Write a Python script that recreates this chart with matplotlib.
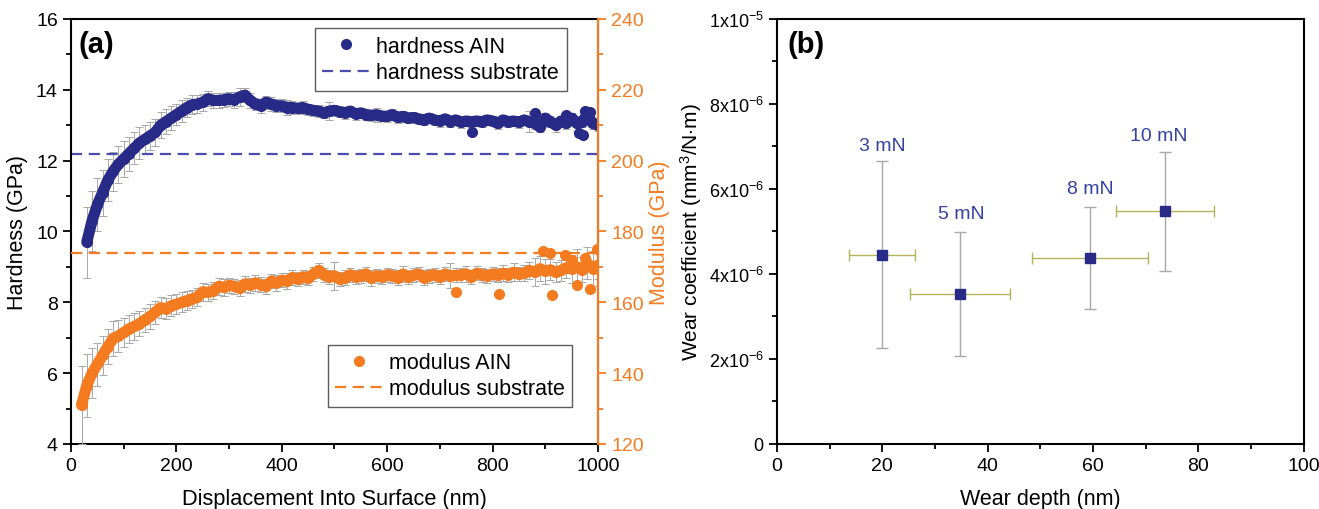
import matplotlib.pyplot as plt
from matplotlib.ticker import MultipleLocator, FixedLocator
import numpy as np

plt.rcParams['font.family'] = ['Liberation Sans', 'DejaVu Sans']
plt.rcParams['mathtext.fontset'] = 'custom'
plt.rcParams['mathtext.rm'] = 'Liberation Sans'
plt.rcParams['mathtext.it'] = 'Liberation Sans:italic'

# ---- panel (a) data: nanoindentation ----
h_depth = np.arange(30, 1001, 10)
hardness = [9.7, 10.3, 10.75, 11.1, 11.45, 11.7, 11.9, 12.05, 12.2, 12.35,
            12.5, 12.6, 12.7, 12.8, 13.0, 13.1, 13.2, 13.3, 13.4, 13.5,
            13.58, 13.6, 13.65, 13.75, 13.7, 13.7, 13.72, 13.75, 13.72, 13.8,
            13.85, 13.7, 13.6, 13.55, 13.65, 13.6, 13.55, 13.55, 13.5, 13.5,
            13.48, 13.5, 13.45, 13.42, 13.4, 13.35, 13.4, 13.42, 13.38, 13.35,
            13.4, 13.32, 13.35, 13.3, 13.28, 13.3, 13.26, 13.25, 13.3, 13.22,
            13.25, 13.2, 13.22, 13.18, 13.15, 13.2, 13.15, 13.12, 13.18, 13.1,
            13.15, 13.08, 13.12, 13.1, 13.12, 13.1, 13.15, 13.12, 13.05, 13.15,
            13.1, 13.12, 13.08, 13.15, 13.1, 13.05, 12.95, 13.2, 13.1, 13.0,
            13.12, 13.05, 13.2, 13.05, 13.1, 13.3, 13.05, 13.0]
hardness_err = [1.0, 0.85, 0.75, 0.65, 0.6, 0.55, 0.52, 0.5, 0.48, 0.45,
                0.45, 0.42, 0.4, 0.38, 0.36, 0.35, 0.33, 0.3, 0.3, 0.28,
                0.26, 0.25, 0.24, 0.22, 0.22, 0.2, 0.2, 0.2, 0.22, 0.25,
                0.2, 0.2, 0.18, 0.2, 0.18, 0.2, 0.18, 0.18, 0.2, 0.18,
                0.15, 0.18, 0.16, 0.15, 0.18, 0.15, 0.25, 0.15, 0.15, 0.16,
                0.15, 0.18, 0.15, 0.15, 0.15, 0.2, 0.15, 0.15, 0.15, 0.15,
                0.15, 0.15, 0.15, 0.15, 0.15, 0.15, 0.15, 0.16, 0.15, 0.15,
                0.15, 0.15, 0.15, 0.15, 0.15, 0.15, 0.15, 0.15, 0.15, 0.15,
                0.15, 0.15, 0.15, 0.15, 0.3, 0.15, 0.15, 0.15, 0.15, 0.2,
                0.15, 0.15, 0.15, 0.2, 0.15, 0.2, 0.15, 0.15]
h_extra_depth = [761, 965, 972, 975, 880, 985, 940]
h_extra = [12.8, 12.78, 12.72, 13.4, 13.35, 13.38, 13.3]

m_depth = np.arange(20, 1001, 10)
modulus = [131, 136.5, 140, 142.5, 145, 147.5, 149.8, 150.5, 151.5, 152.5,
           153.2, 154, 155, 156, 157.2, 158.5, 158.2, 159, 159.5, 160,
           160.5, 161, 161.5, 163, 162.8, 163.2, 164.5, 164.2, 164.8, 164.5,
           164, 165.2, 164.8, 165.5, 165, 164.5, 166, 165.5, 166.2, 166,
           167, 166.5, 167.2, 166.8, 168, 169, 167.8, 167.2, 167.5, 166.5,
           167, 167.8, 167.2, 167.5, 168, 166.8, 167.5, 167.2, 167.8, 167.5,
           167, 168, 167.2, 167.6, 168, 167, 167.5, 167.8, 167.2, 168,
           167.5, 167.6, 167.8, 168, 167.2, 168.2, 167.8, 167.5, 168, 167.6,
           168.2, 167.8, 168.5, 168, 168.2, 169, 168.5, 169.5, 168.8, 169.2,
           168.5, 169, 169.8, 169.5, 170, 169.2, 171, 169.5, 170.5]
modulus_err = [11, 9, 7, 6, 5.5, 5, 5, 4.5, 4.2, 4,
               3.8, 3.6, 3.5, 3.4, 3.2, 3, 3, 3, 2.8, 2.8,
               2.6, 2.5, 2.5, 2.5, 2.4, 2.4, 2.3, 2.3, 2.2, 2.2,
               2.2, 2.2, 2.2, 2.2, 2.2, 2.2, 2, 2.2, 2, 2.2,
               2, 2, 2, 2, 2, 2, 2, 2, 4, 2,
               2, 2, 2, 2, 2, 2.2, 2, 2, 2, 2,
               2, 2.2, 2, 2, 2, 2, 2, 2, 2, 2,
               3.5, 2, 2, 2.2, 2, 2, 2, 2, 2, 2,
               2.2, 2, 2.5, 2, 2.2, 2.5, 4, 3.5, 3.5, 3,
               2.8, 3, 3, 4, 5, 3.5, 4.5, 5, 4]
m_extra_depth = [730, 812, 912, 896, 909, 937, 985, 998, 950, 975, 960]
m_extra = [163, 162.3, 162, 174.5, 174, 173.5, 163.7, 175, 172, 172.5, 165]

hardness_substrate = 12.2
modulus_substrate = 174

# ---- panel (b) data: wear ----
loads = ['3 mN', '5 mN', '8 mN', '10 mN']
wear_depth = [20, 34.7, 59.4, 73.6]
wear_depth_err = [6.3, 9.5, 11, 9.3]
wear_coef = [4.45e-6, 3.53e-6, 4.37e-6, 5.48e-6]
wear_coef_err = [2.2e-6, 1.45e-6, 1.2e-6, 1.4e-6]
label_x = [20, 35, 59.4, 72.5]
label_y = [7.02e-6, 5.42e-6, 6.02e-6, 7.27e-6]

navy = '#272a86'
blue_dash = '#4a4db0'
orange = '#f47b20'
grey = '#a8a8a8'

fig = plt.figure(figsize=(13.19, 5.10), dpi=100)
ax = fig.add_axes([0.0538, 0.1275, 0.3995, 0.8333])
ax2 = ax.twinx()
axb = fig.add_axes([0.589, 0.1275, 0.3995, 0.8333])

# hardness
ax.errorbar(h_depth, hardness, yerr=hardness_err, fmt='none', ecolor=grey,
            elinewidth=0.7, capsize=3, capthick=0.7, zorder=1)
ax.plot(h_depth, hardness, '-', color=navy, lw=8, zorder=3,
        solid_capstyle='round', solid_joinstyle='round')
ax.plot(h_depth, hardness, 'o', color=navy, ms=7, zorder=3,
        label='hardness AIN')
ax.plot(h_extra_depth, h_extra, 'o', color=navy, ms=7, zorder=3)
ax.axhline(hardness_substrate, color=blue_dash, lw=1.6, ls=(0, (5, 3)),
           label='hardness substrate', zorder=2)
ax.set_xlim(0, 1000)
ax.set_ylim(4, 16)
ax.xaxis.set_major_locator(MultipleLocator(200))
ax.xaxis.set_minor_locator(MultipleLocator(100))
ax.yaxis.set_major_locator(MultipleLocator(2))
ax.yaxis.set_minor_locator(MultipleLocator(1))
ax.set_xlabel('Displacement Into Surface (nm)', fontsize=15.7, labelpad=10)
ax.set_ylabel('Hardness (GPa)', fontsize=15.5, labelpad=6)
ax.text(0.015, 0.975, '(a)', transform=ax.transAxes, fontsize=21,
        fontweight='bold', va='top')

# modulus
ax2.errorbar(m_depth, modulus, yerr=modulus_err, fmt='none', ecolor=grey,
             elinewidth=0.7, capsize=3, capthick=0.7, zorder=1)
ax2.plot(m_depth, modulus, '-', color=orange, lw=8, zorder=3,
         solid_capstyle='round', solid_joinstyle='round')
ax2.plot(m_depth, modulus, 'o', color=orange, ms=7, zorder=3,
         label='modulus AIN')
ax2.plot(m_extra_depth, m_extra, 'o', color=orange, ms=7, zorder=3)
ax2.axhline(modulus_substrate, color=orange, lw=1.6, ls=(0, (5, 3)),
            label='modulus substrate', zorder=2)
ax2.set_ylim(120, 240)
ax2.yaxis.set_major_locator(MultipleLocator(20))
ax2.yaxis.set_minor_locator(MultipleLocator(10))
ax2.set_ylabel('Modulus (GPa)', fontsize=15.5, color=orange, labelpad=4)
ax2.spines['right'].set_color(orange)
ax2.tick_params(axis='y', colors=orange, labelsize=14)
ax2.tick_params(axis='y', which='both', color=orange, width=1.3)
ax2.tick_params(axis='y', which='major', length=6)
ax2.tick_params(axis='y', which='minor', length=3.5)

for a in (ax, axb):
    a.tick_params(which='both', direction='out', top=False, right=False,
                  labelsize=14, width=1.3)
    a.tick_params(which='major', length=6)
    a.tick_params(which='minor', length=3.5)
    for s in a.spines.values():
        s.set_linewidth(1.5)
for s in ('left', 'top', 'bottom'):
    ax2.spines[s].set_visible(False)
ax2.spines['right'].set_linewidth(1.5)

leg_kw = dict(fontsize=15.5, frameon=True, fancybox=False, edgecolor='#333333',
              handlelength=2.2, handletextpad=0.3, borderpad=0.35,
              labelspacing=0.25, borderaxespad=0)
leg1 = ax.legend(loc='upper left', bbox_to_anchor=(0.463, 0.978), **leg_kw)
leg1.get_frame().set_linewidth(1.0)
leg2 = ax2.legend(loc='lower left', bbox_to_anchor=(0.487, 0.087), **leg_kw)
leg2.get_frame().set_linewidth(1.0)

# ---- panel (b) ----
axb.errorbar(wear_depth, wear_coef, yerr=wear_coef_err, fmt='none',
             ecolor=grey, elinewidth=1.0, capsize=4, capthick=1.0, zorder=1)
axb.errorbar(wear_depth, wear_coef, xerr=wear_depth_err, fmt='none',
             ecolor='#b3b35a', elinewidth=1.0, capsize=4, capthick=1.0, zorder=2)
axb.plot(wear_depth, wear_coef, 's', color=navy, ms=7, zorder=3)
for lx, ly, lab in zip(label_x, label_y, loads):
    axb.text(lx, ly, lab, color='#3443a2', fontsize=14, ha='center',
             va='center')
axb.set_xlim(0, 100)
axb.set_ylim(0, 1e-5)
axb.xaxis.set_major_locator(MultipleLocator(20))
axb.xaxis.set_minor_locator(MultipleLocator(10))
axb.yaxis.set_major_locator(FixedLocator([0, 2e-6, 4e-6, 6e-6, 8e-6, 1e-5]))
axb.yaxis.set_minor_locator(MultipleLocator(1e-6))
axb.set_yticklabels(['0', r'2x10$^{-6}$', r'4x10$^{-6}$', r'6x10$^{-6}$',
                     r'8x10$^{-6}$', r'1x10$^{-5}$'])
axb.tick_params(axis='y', labelsize=13)
axb.set_xlabel('Wear depth (nm)', fontsize=15.5, labelpad=10)
axb.set_ylabel(r'Wear coefficient (mm$^3$/N$\cdot$m)', fontsize=15, labelpad=3)
axb.text(0.02, 0.975, '(b)', transform=axb.transAxes, fontsize=21,
         fontweight='bold', va='top')

fig.savefig('out.png', dpi=100)
